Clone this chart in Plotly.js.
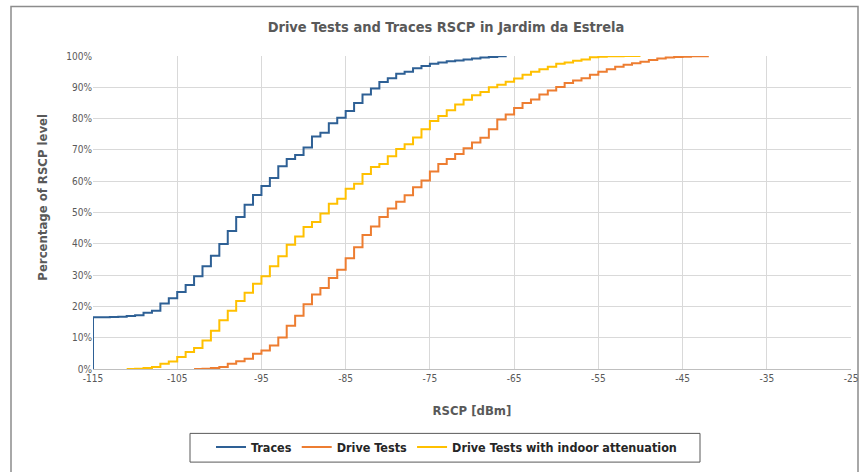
<!DOCTYPE html>
<html>
<head>
<meta charset="utf-8">
<script src="https://cdn.plot.ly/plotly-3.0.1.min.js"></script>
<style>
  html, body { margin: 0; padding: 0; background: #ffffff; }
  #chart { width: 861px; height: 472px; }
</style>
</head>
<body>
<div id="chart"></div>
<script>
// ---- Data (RSCP in dBm, cumulative percentage) ----
const tracesX = [-115, -115, -114, -113, -112, -111, -110, -109, -108, -107, -106, -105, -104, -103, -102, -101, -100, -99, -98, -97, -96, -95, -94, -93, -92, -91, -90, -89, -88, -87, -86, -85, -84, -83, -82, -81, -80, -79, -78, -77, -76, -75, -74, -73, -72, -71, -70, -69, -68, -67, -66];
const tracesY = [0, 16.5, 16.5, 16.6, 16.7, 16.9, 17.2, 18.0, 18.6, 20.9, 22.6, 24.6, 26.8, 29.6, 32.8, 36.2, 39.9, 44.1, 48.6, 52.5, 55.6, 58.5, 61.0, 64.8, 67.1, 68.4, 70.8, 74.3, 75.5, 78.5, 80.3, 82.4, 85.0, 87.7, 89.6, 91.7, 92.9, 94.3, 95.0, 96.1, 96.8, 97.5, 97.9, 98.3, 98.6, 98.9, 99.2, 99.5, 99.7, 99.9, 100];

const driveX = [-103, -102, -101, -100, -99, -98, -97, -96, -95, -94, -93, -92, -91, -90, -89, -88, -87, -86, -85, -84, -83, -82, -81, -80, -79, -78, -77, -76, -75, -74, -73, -72, -71, -70, -69, -68, -67, -66, -65, -64, -63, -62, -61, -60, -59, -58, -57, -56, -55, -54, -53, -52, -51, -50, -49, -48, -47, -46, -45, -44, -43, -42];
const driveY = [0, 0.1, 0.3, 0.6, 1.7, 2.5, 3.3, 4.9, 5.9, 7.5, 10.1, 13.8, 17.0, 20.7, 23.8, 25.9, 29.1, 31.7, 35.4, 38.9, 42.8, 45.5, 48.6, 51.3, 53.4, 55.5, 58.1, 60.2, 63.1, 65.5, 67.1, 68.7, 70.5, 72.4, 73.9, 76.6, 79.7, 81.3, 83.4, 85.0, 86.1, 87.7, 89.0, 90.1, 91.4, 92.2, 92.9, 94.0, 95.0, 95.8, 96.6, 97.2, 97.7, 98.2, 98.7, 99.2, 99.5, 99.7, 99.8, 99.9, 99.95, 100];

const indoorX = [-111, -110, -109, -108, -107, -106, -105, -104, -103, -102, -101, -100, -99, -98, -97, -96, -95, -94, -93, -92, -91, -90, -89, -88, -87, -86, -85, -84, -83, -82, -81, -80, -79, -78, -77, -76, -75, -74, -73, -72, -71, -70, -69, -68, -67, -66, -65, -64, -63, -62, -61, -60, -59, -58, -57, -56, -55, -54, -53, -52, -51, -50];
const indoorY = [0, 0.1, 0.3, 0.6, 1.7, 2.4, 3.8, 5.4, 6.7, 9.1, 12.2, 15.6, 18.6, 21.7, 24.4, 27.2, 29.6, 32.8, 36.0, 39.7, 42.3, 45.4, 47.0, 49.7, 52.8, 54.4, 57.6, 59.2, 62.3, 64.5, 65.5, 68.0, 70.3, 71.8, 74.0, 76.6, 79.2, 80.8, 82.7, 84.5, 86.0, 87.5, 88.5, 90.0, 90.8, 91.8, 92.8, 94.0, 95.0, 95.8, 96.6, 97.5, 97.9, 98.5, 98.9, 99.6, 99.8, 99.9, 99.9, 100, 100, 100];

const seriesNames = ["Traces", "Drive Tests", "Drive Tests with indoor attenuation"];
const xTickVals = [-115, -105, -95, -85, -75, -65, -55, -45, -35, -25];
const yTickVals = [0, 10, 20, 30, 40, 50, 60, 70, 80, 90, 100];

// ---- Styling ----
const FONT = "'DejaVu Sans Condensed', 'Liberation Sans', Arial, sans-serif";
const GRAY = "#595959";
const colors = ["#2E6095", "#ED7D31", "#FFC000"];

// plot area in pixels: x 93..851, y 56..372
const W = 861, H = 472, L = 93, R = 10, T = 56, B = 100;
const pw = W - L - R, ph = H - T - B;
const px2x = p => (p - L) / pw;
const px2y = p => (H - B - p) / ph;

const mk = (x, y, i) => ({
  x: x, y: y, name: seriesNames[i], type: "scatter", mode: "lines",
  line: { color: colors[i], width: 2, shape: "hv" },
  hoverinfo: "x+y+name"
});

const data = [mk(tracesX, tracesY, 0), mk(driveX, driveY, 1), mk(indoorX, indoorY, 2)];

const layout = {
  width: W, height: H,
  margin: { l: L, r: R, t: T, b: B },
  paper_bgcolor: "#ffffff", plot_bgcolor: "#ffffff",
  font: { family: FONT, color: GRAY, size: 10 },
  title: {
    text: "Drive Tests and Traces RSCP in Jardim da Estrela",
    font: { family: FONT, size: 14.5, color: GRAY, weight: "bold" },
    xref: "container", x: 446 / W, xanchor: "center",
    yref: "container", y: 1 - 27 / H, yanchor: "middle"
  },
  xaxis: {
    range: [-115, -25], tickvals: xTickVals, ticktext: xTickVals.map(String),
    showgrid: true, gridcolor: "#d9d9d9", gridwidth: 1,
    zeroline: false, showline: true, linecolor: "#bfbfbf", linewidth: 1,
    ticks: "", tickfont: { family: FONT, size: 10, color: GRAY },
    title: { text: "RSCP [dBm]", font: { family: FONT, size: 13, color: GRAY, weight: "bold" }, standoff: 22 }
  },
  yaxis: {
    range: [0, 100], tickvals: yTickVals, ticktext: yTickVals.map(v => v + "%"),
    showgrid: true, gridcolor: "#d9d9d9", gridwidth: 1,
    zeroline: false, showline: false, ticks: "",
    tickfont: { family: FONT, size: 10, color: GRAY }
  },
  annotations: [
    { text: "Percentage of RSCP level", textangle: -90, showarrow: false,
      xref: "paper", yref: "paper", x: px2x(43), y: px2y(199),
      xanchor: "center", yanchor: "middle",
      font: { family: FONT, size: 13, color: GRAY, weight: "bold" } }
  ],
  showlegend: true,
  legend: {
    orientation: "h", xref: "paper", yref: "paper",
    x: px2x(211), xanchor: "left", y: px2y(451), yanchor: "middle",
    font: { family: FONT, size: 12.5, color: "#262626", weight: "bold" },
    bgcolor: "rgba(0,0,0,0)", borderwidth: 0, itemwidth: 30
  },
  shapes: [
    { type: "rect", xref: "paper", yref: "paper", layer: "below",
      x0: px2x(11), x1: px2x(858), y0: px2y(6), y1: px2y(490),
      line: { color: "#8c8c8c", width: 1.5 }, fillcolor: "rgba(0,0,0,0)" },
    { type: "rect", xref: "paper", yref: "paper", layer: "below",
      x0: px2x(190), x1: px2x(700), y0: px2y(437), y1: px2y(466),
      line: { color: "#595959", width: 1 }, fillcolor: "rgba(0,0,0,0)" }
  ]
};

Plotly.newPlot("chart", data, layout, { displayModeBar: false, staticPlot: true });
</script>
</body>
</html>
